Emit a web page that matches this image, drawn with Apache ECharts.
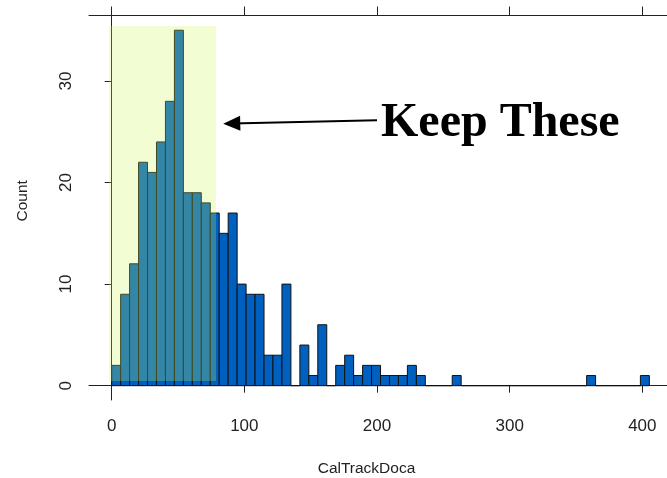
<!DOCTYPE html>
<html>
<head>
<meta charset="utf-8">
<script src="https://cdn.jsdelivr.net/npm/echarts@6/dist/echarts.min.js"></script>
<style>
html,body{margin:0;padding:0;background:#fff;}
#c{width:667px;height:478px;}
</style>
</head>
<body>
<div id="c"></div>
<script>
// ---- data ----
const binStart = 0;
const binWidth = 6.755;
const binCounts = [2, 9, 12, 22, 21, 24, 28, 35, 19, 19,
                   18, 17, 15, 17, 10, 9, 9, 3, 3, 10,
                   0, 4, 1, 6, 0, 2, 3, 1, 2, 2,
                   1, 1, 1, 2, 1, 0, 0, 0, 1, 0,
                   0, 0, 0, 0, 0, 0, 0, 0, 0, 0,
                   0, 0, 0, 1, 0, 0, 0, 0, 0, 1];
const xTicks = [0, 100, 200, 300, 400];
const yTicks = [0, 10, 20, 30];
const xTitle = 'CalTrackDoca';
const yTitle = 'Count';
const noteText = 'Keep These';
const keepRange = [-2.0, 78.6];   // highlighted region (x)
const keepRangeY = [0.46, 35.41];

// ---- build ----
const histData = binCounts.map((c, i) => [binStart + i * binWidth, binStart + (i + 1) * binWidth, c]);

const chart = echarts.init(document.getElementById('c'), null, {renderer: 'canvas'});
const axisColor = '#222';
const labelFont = {fontFamily: 'Liberation Sans, Arial, sans-serif', fontSize: 17, color: '#222'};
const xMin = -17.1, xMax = 418.6;

chart.setOption({
  animation: false,
  backgroundColor: '#fff',
  grid: {left: 89, top: 15.5, right: 0, height: 384.5, containLabel: false},
  xAxis: [{
    type: 'value', position: 'bottom', min: xMin, max: xMax,
    axisLine: {show: true, lineStyle: {color: axisColor, width: 1}},
    axisTick: {show: true, length: 7, customValues: xTicks, lineStyle: {color: axisColor}},
    axisLabel: Object.assign({show: true, margin: 18, customValues: xTicks}, labelFont),
    splitLine: {show: false}
  }, {
    type: 'value', position: 'top', min: xMin, max: xMax,
    axisLine: {show: true, lineStyle: {color: axisColor, width: 1}},
    axisTick: {show: true, length: 9, customValues: xTicks, lineStyle: {color: axisColor}},
    axisLabel: {show: false},
    splitLine: {show: false}
  }],
  yAxis: [{
    type: 'value', min: -1.41, max: 36.45,
    axisLine: {show: true, lineStyle: {color: axisColor, width: 1}},
    axisTick: {show: true, length: 7, customValues: yTicks, lineStyle: {color: axisColor}},
    axisLabel: Object.assign({show: true, margin: 14, rotate: 90, customValues: yTicks}, labelFont),
    splitLine: {show: false}
  }],
  series: [{
    type: 'custom',
    xAxisIndex: 0, yAxisIndex: 0,
    z: 2,
    data: histData,
    renderItem: function (params, api) {
      const p0 = api.coord([api.value(0), api.value(2)]);
      const p1 = api.coord([api.value(1), 0]);
      return {
        type: 'rect',
        shape: {x: p0[0], y: p0[1], width: p1[0] - p0[0], height: p1[1] - p0[1]},
        style: {fill: '#0060c0', stroke: '#111', lineWidth: 1}
      };
    }
  }, {
    type: 'line',
    xAxisIndex: 0, yAxisIndex: 0,
    z: 5,
    data: [],
    markArea: {
      silent: true,
      z: 10,
      itemStyle: {color: 'rgba(203,247,83,0.25)', borderWidth: 0, opacity: 1},
      data: [[{xAxis: keepRange[0], yAxis: keepRangeY[1]}, {xAxis: keepRange[1], yAxis: keepRangeY[0]}]]
    },
    markLine: {
      silent: true,
      z: 11,
      symbol: ['none', 'triangle'],
      symbolSize: [15, 17],
      label: {show: false},
      lineStyle: {color: '#000', width: 2, type: 'solid'},
      data: [[{coord: [200.0, 26.14], symbol: 'none'}, {coord: [90.5, 25.81], symbol: 'triangle'}]]
    }
  }],
  graphic: [{
    type: 'text', left: 381, top: 100, z: 10,
    style: {text: noteText, fontFamily: 'Liberation Serif, Times New Roman, serif', fontWeight: 'bold', fontSize: 48, fill: '#000'}
  }, {
    type: 'text', x: 22.7, y: 200.8, rotation: Math.PI / 2, z: 10,
    style: {text: yTitle, align: 'center', verticalAlign: 'middle', fontFamily: 'Liberation Sans, Arial, sans-serif', fontSize: 15.5, fill: '#222'}
  }, {
    type: 'text', x: 366.5, y: 469, z: 10,
    style: {text: xTitle, align: 'center', verticalAlign: 'middle', fontFamily: 'Liberation Sans, Arial, sans-serif', fontSize: 15.5, fill: '#222'}
  }]
});
</script>
</body>
</html>
